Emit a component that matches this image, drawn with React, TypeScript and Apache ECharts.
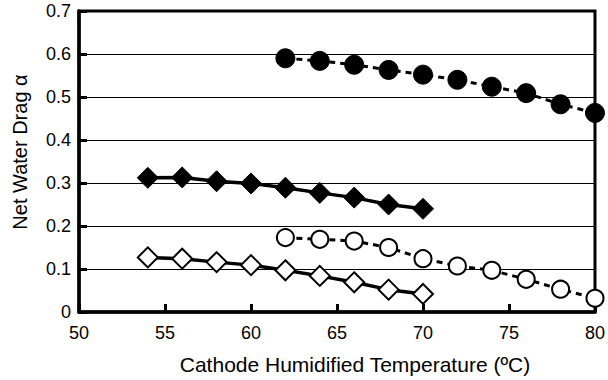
import React, { useEffect, useRef } from "react";
import * as echarts from "echarts";

const xFilledCircle = [62, 64, 66, 68, 70, 72, 74, 76, 78, 80];
const yFilledCircle = [0.59, 0.584, 0.575, 0.563, 0.552, 0.54, 0.524, 0.509, 0.483, 0.463];
const xOpenCircle = [62, 64, 66, 68, 70, 72, 74, 76, 78, 80];
const yOpenCircle = [0.173, 0.169, 0.165, 0.15, 0.124, 0.107, 0.097, 0.076, 0.053, 0.032];
const xFilledDiamond = [54, 56, 58, 60, 62, 64, 66, 68, 70];
const yFilledDiamond = [0.312, 0.313, 0.304, 0.299, 0.289, 0.277, 0.266, 0.25, 0.24];
const xOpenDiamond = [54, 56, 58, 60, 62, 64, 66, 68, 70];
const yOpenDiamond = [0.127, 0.124, 0.116, 0.109, 0.097, 0.084, 0.069, 0.052, 0.042];

const xTitle = "Cathode Humidified Temperature (ºC)";
const yTitle = "Net Water Drag α";

const zip = (xs: number[], ys: number[]) => xs.map((x, i) => [x, ys[i]]);

export default function App() {
  const ref = useRef<HTMLDivElement>(null);
  useEffect(() => {
    const chart = echarts.init(ref.current!, null, { renderer: "svg" });
    const font = "Liberation Sans, Arial, sans-serif";
    chart.setOption({
      animation: false,
      backgroundColor: "#ffffff",
      grid: {
        left: 79,
        right: 11,
        top: 11,
        bottom: 67,
        show: true,
        borderColor: "#000",
        borderWidth: 3,
      },
      xAxis: {
        type: "value",
        min: 50,
        max: 80,
        interval: 5,
        name: xTitle,
        nameLocation: "middle",
        nameGap: 42,
        nameTextStyle: { fontFamily: font, fontSize: 21, color: "#000", padding: [0, 0, 0, 36] },
        axisLine: { show: true, lineStyle: { color: "#000", width: 3.5 } },
        axisTick: { show: true, inside: true, length: 8, lineStyle: { color: "#000", width: 3 } },
        axisLabel: { fontFamily: font, fontSize: 18, color: "#000", margin: 12 },
        splitLine: { show: false },
      },
      yAxis: {
        type: "value",
        min: 0,
        max: 0.7,
        interval: 0.1,
        name: yTitle,
        nameLocation: "middle",
        nameGap: 49,
        nameTextStyle: { fontFamily: font, fontSize: 20, color: "#000", padding: [0, 0, 0, 19] },
        axisLine: { show: true, lineStyle: { color: "#000", width: 3.5 } },
        axisTick: { show: true, inside: true, length: 8, lineStyle: { color: "#000", width: 3 } },
        axisLabel: {
          fontFamily: font,
          fontSize: 18,
          color: "#000",
          margin: 8,
          formatter: (v: number) => (v === 0 ? "0" : v.toFixed(1)),
        },
        splitLine: { show: true, lineStyle: { color: "#000", width: 1 } },
      },
      series: [
        {
          type: "line",
          data: zip(xFilledCircle, yFilledCircle),
          symbol: "circle",
          symbolSize: 19,
          lineStyle: { color: "#000", width: 3, type: [6, 5] },
          itemStyle: { color: "#000", borderColor: "#000", borderWidth: 1 },
        },
        {
          type: "line",
          data: zip(xOpenCircle, yOpenCircle),
          symbol: "circle",
          symbolSize: 17,
          lineStyle: { color: "#000", width: 3, type: [6, 5] },
          itemStyle: { color: "#fff", borderColor: "#000", borderWidth: 2 },
        },
        {
          type: "line",
          data: zip(xFilledDiamond, yFilledDiamond),
          symbol: "diamond",
          symbolSize: [21, 21],
          lineStyle: { color: "#000", width: 3.5 },
          itemStyle: { color: "#000", borderColor: "#000", borderWidth: 1 },
        },
        {
          type: "line",
          data: zip(xOpenDiamond, yOpenDiamond),
          symbol: "diamond",
          symbolSize: [20, 20],
          lineStyle: { color: "#000", width: 3.5 },
          itemStyle: { color: "#fff", borderColor: "#000", borderWidth: 2 },
        },
      ],
    });
    return () => chart.dispose();
  }, []);
  return <div ref={ref} style={{ width: 608, height: 380, position: "absolute", left: 0, top: 0 }} />;
}
